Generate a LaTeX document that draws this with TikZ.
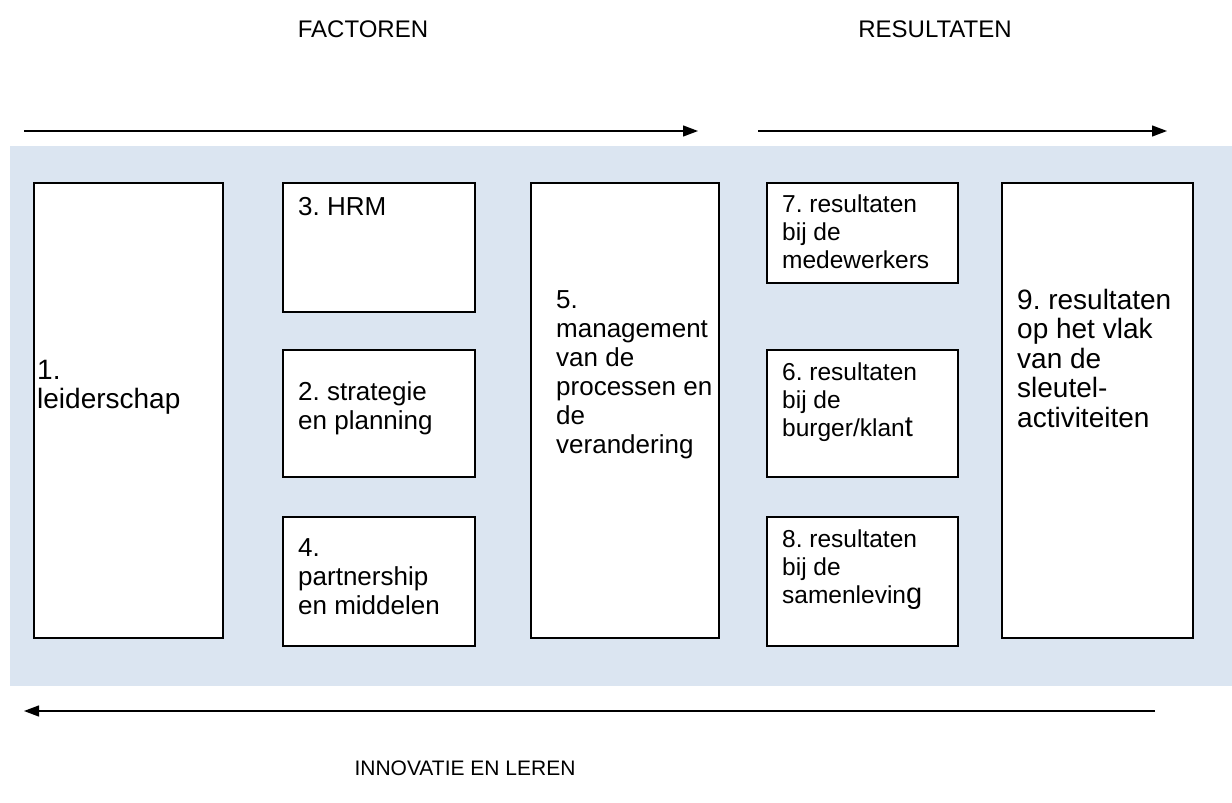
\documentclass[tikz,border=0pt]{standalone}
\usepackage{fontspec}
\setmainfont{Liberation Sans}
\usetikzlibrary{arrows.meta}
\definecolor{panelblue}{HTML}{DBE5F1}
\frenchspacing
\tikzset{
  modelbox/.style={draw=black, line width=1.6pt, fill=white, inner sep=0pt, anchor=north west},
  bigtxt/.style={anchor=north west, align=left, inner sep=0pt,
    font=\fontsize{28}{29.5}\selectfont},
  midtxt/.style={anchor=north west, align=left, inner sep=0pt,
    font=\fontsize{26}{29}\selectfont},
  smalltxt/.style={anchor=north west, align=left, inner sep=0pt,
    font=\fontsize{24.5}{28}\selectfont},
  headtxt/.style={font=\fontsize{24}{27}\selectfont, inner sep=0pt},
  flow/.style={line width=1.3pt, -{Triangle[length=15pt,width=11pt]}}
}
\newcommand{\biglet}[1]{{\fontsize{29}{28}\selectfont #1}}
\begin{document}
\begin{tikzpicture}[x=1pt,y=-1pt]
\useasboundingbox (0,0) rectangle (1232,803);
% shaded panel behind the model
\fill[panelblue] (10,146) rectangle (1232,686);

% headings
\node[headtxt] (hfac) at (363,29) {FACTOREN};
\node[headtxt] (hres) at (935,29) {RESULTATEN};
\node[headtxt, font=\fontsize{21}{26}\selectfont] (hinn) at (465,768) {INNOVATIE EN LEREN};

% direction arrows
\coordinate (fa0) at (24,131);   \coordinate (fa1) at (698,131);
\coordinate (ra0) at (758,131);  \coordinate (ra1) at (1167,131);
\coordinate (ia0) at (1155,711); \coordinate (ia1) at (24,711);
\draw[flow] (fa0) -- (fa1);
\draw[flow] (ra0) -- (ra1);
\draw[flow] (ia0) -- (ia1);

% boxes
\node[modelbox, minimum width=189pt, minimum height=455pt] (b1) at (33,182) {};
\node[modelbox, minimum width=192pt, minimum height=129pt] (b3) at (282,182) {};
\node[modelbox, minimum width=192pt, minimum height=127pt] (b2) at (282,349) {};
\node[modelbox, minimum width=192pt, minimum height=129pt] (b4) at (282,516) {};
\node[modelbox, minimum width=188pt, minimum height=455pt] (b5) at (530,182) {};
\node[modelbox, minimum width=191pt, minimum height=100pt] (b7) at (766,182) {};
\node[modelbox, minimum width=191pt, minimum height=127pt] (b6) at (766,349) {};
\node[modelbox, minimum width=191pt, minimum height=129pt] (b8) at (766,516) {};
\node[modelbox, minimum width=191pt, minimum height=455pt] (b9) at (1001,182) {};

% box texts
\node[bigtxt] (t1) at ([xshift=4pt,yshift=-178pt]b1.north west) {1.\\leiderschap};
\node[midtxt] (t3) at ([xshift=16pt,yshift=-15pt]b3.north west) {3. HRM};
\node[midtxt] (t2) at ([xshift=16pt,yshift=-32pt]b2.north west) {2. strategie\\en planning};
\node[midtxt] (t4) at ([xshift=16pt,yshift=-22pt]b4.north west) {4.\\partnership\\en middelen};
\node[midtxt] (t5) at ([xshift=26pt,yshift=-108pt]b5.north west) {5.\\management\\van de\\processen en\\de\\verandering};
\node[smalltxt] (t7) at ([xshift=16pt,yshift=-13pt]b7.north west) {7. resultaten\\bij de\\medewerkers};
\node[smalltxt] (t6) at ([xshift=16pt,yshift=-14pt]b6.north west) {6. resultaten\\bij de\\burger/klan\biglet{t}};
\node[smalltxt] (t8) at ([xshift=16pt,yshift=-14pt]b8.north west) {8. resultaten\\bij de\\samenlevin\biglet{g}};
\node[bigtxt] (t9) at ([xshift=16pt,yshift=-107pt]b9.north west) {9. resultaten\\op het vlak\\van de\\sleutel-\\activiteiten};
\end{tikzpicture}
\end{document}
